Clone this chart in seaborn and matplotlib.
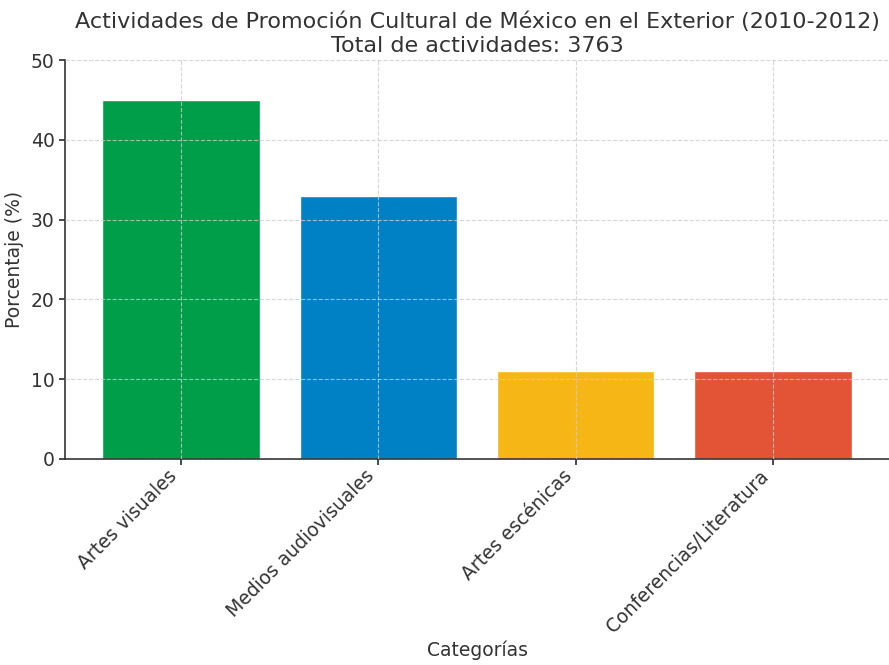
import matplotlib
matplotlib.use("Agg")
import matplotlib.pyplot as plt
import seaborn as sns
import pandas as pd

categories = ["Artes visuales", "Medios audiovisuales", "Artes escénicas", "Conferencias/Literatura"]
percentages = [45, 33, 11, 11]
colors = ["#009E49", "#0081C6", "#F6B716", "#E35336"]
title = "Actividades de Promoción Cultural de México en el Exterior (2010-2012)\nTotal de actividades: 3763"

sns.set_theme(style="white")
plt.rcParams['font.family'] = ['DejaVu Sans']

df = pd.DataFrame({"Categorías": categories, "Porcentaje": percentages})

fig = plt.figure(figsize=(8.89, 6.65), dpi=100)
ax = fig.add_axes([65/889, 1 - 459/665, (889 - 65)/889, (459 - 60)/665])
sns.barplot(data=df, x="Categorías", y="Porcentaje", hue="Categorías", palette=colors,
            legend=False, ax=ax, width=0.8, saturation=1)
ax.set_ylim(0, 50)
ax.set_xlim(-0.59, 3.59)
ax.set_yticks([0, 10, 20, 30, 40, 50])
ax.grid(True, linestyle="--", color="#cccccc", linewidth=0.8, alpha=0.8)
ax.set_axisbelow(False)
for s in ["top", "right"]:
    ax.spines[s].set_visible(False)
for s in ["left", "bottom"]:
    ax.spines[s].set_color("#333333")
    ax.spines[s].set_linewidth(1.2)
ax.tick_params(axis="both", labelsize=13.5, colors="#333333", length=4, direction="out", bottom=True, left=True)
ax.tick_params(axis="x", pad=1.5)
plt.setp(ax.get_xticklabels(), rotation=45, ha="right")
ax.set_xlabel("Categorías", fontsize=13.5, color="#333333", labelpad=3)
ax.set_ylabel("Porcentaje (%)", fontsize=13.5, color="#333333", labelpad=5)
ax.set_title(title, fontsize=16, color="#333333")
fig.savefig("out.png", dpi=100)
